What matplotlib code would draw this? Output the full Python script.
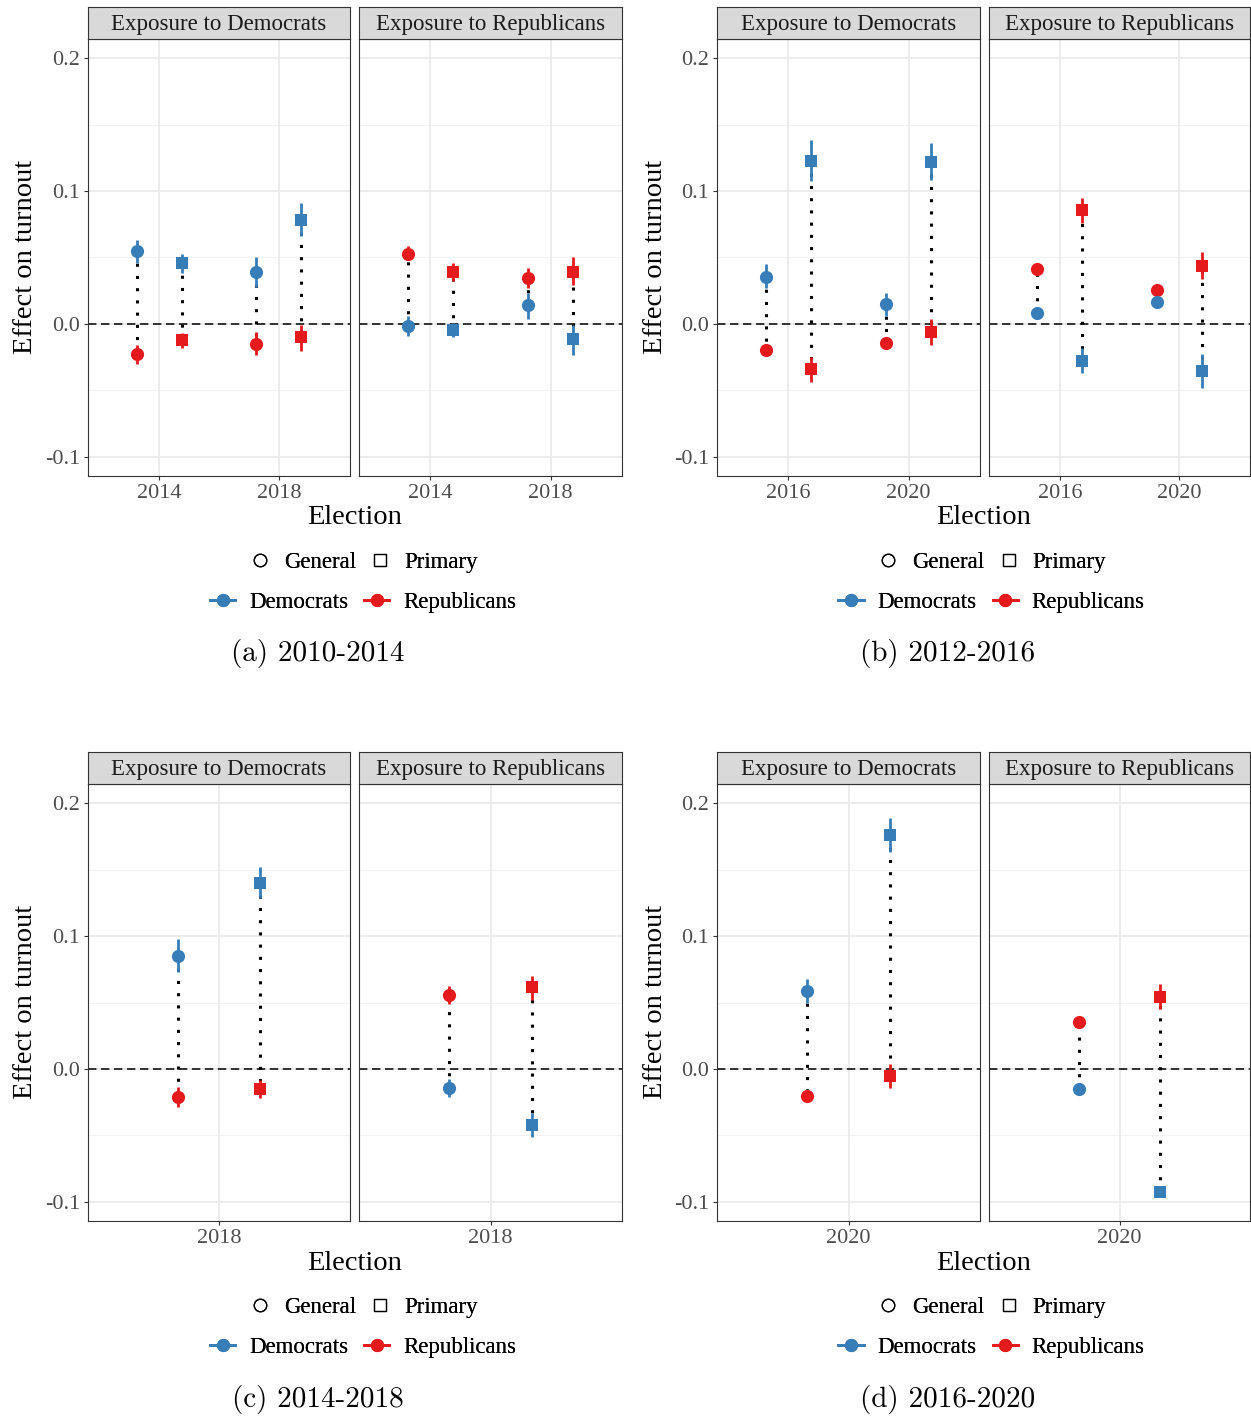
import matplotlib
matplotlib.use("Agg")
import matplotlib.pyplot as plt
from matplotlib.lines import Line2D

# ---------------- data ----------------
FACETS = ["Exposure to Democrats", "Exposure to Republicans"]
TYPES = ["General", "Primary"]
PARTIES = ["Democrats", "Republicans"]
CAPTIONS = ["(a) 2010-2014", "(b) 2012-2016", "(c) 2014-2018", "(d) 2016-2020"]
YTICKS = [-0.1, 0.0, 0.1, 0.2]
YTICK_LABELS = ["-0.1", "0.0", "0.1", "0.2"]

# order in each list: facet Dem [yr1 General, yr1 Primary, yr2 General, yr2 Primary], then facet Rep [...]
A_YEARS = [2014, 2018]
A_DEM_EST = [0.055, 0.046, 0.039, 0.078, -0.0013, -0.0045, 0.0143, -0.0115]
A_DEM_LO = [0.046, 0.038, 0.028, 0.066, -0.009, -0.010, 0.004, -0.023]
A_DEM_HI = [0.063, 0.0526, 0.050, 0.091, 0.006, 0.0005, 0.023, -0.0008]
A_REP_EST = [-0.0226, -0.012, -0.015, -0.0098, 0.053, 0.039, 0.0345, 0.039]
A_REP_LO = [-0.030, -0.018, -0.023, -0.020, 0.048, 0.032, 0.027, 0.029]
A_REP_HI = [-0.0158, -0.0068, -0.006, -0.0008, 0.059, 0.046, 0.042, 0.050]

B_YEARS = [2016, 2020]
B_DEM_EST = [0.0355, 0.1227, 0.015, 0.122, 0.0083, -0.0278, 0.0165, -0.035]
B_DEM_LO = [0.027, 0.1075, 0.006, 0.108, 0.006, -0.037, 0.014, -0.0483]
B_DEM_HI = [0.045, 0.138, 0.023, 0.136, 0.011, -0.018, 0.019, -0.0226]
B_REP_EST = [-0.0196, -0.034, -0.014, -0.006, 0.041, 0.0857, 0.0255, 0.0436]
B_REP_LO = [-0.023, -0.0436, -0.017, -0.016, 0.038, 0.076, 0.023, 0.0338]
B_REP_HI = [-0.016, -0.025, -0.011, 0.004, 0.044, 0.095, 0.028, 0.054]

C_YEARS = [2018]
C_DEM_EST = [0.0852, 0.140, -0.0145, -0.042]
C_DEM_LO = [0.0727, 0.1283, -0.0213, -0.0509]
C_DEM_HI = [0.0977, 0.1517, -0.0078, -0.0333]
C_REP_EST = [-0.0208, -0.015, 0.0556, 0.0614]
C_REP_LO = [-0.0283, -0.022, 0.0489, 0.0519]
C_REP_HI = [-0.0138, -0.0083, 0.0624, 0.0702]

D_YEARS = [2020]
D_DEM_EST = [0.0589, 0.176, -0.015, -0.0922]
D_DEM_LO = [0.0494, 0.1634, -0.0175, -0.095]
D_DEM_HI = [0.068, 0.1885, -0.0125, -0.0895]
D_REP_EST = [-0.0203, -0.0053, 0.0356, 0.0544]
D_REP_LO = [-0.023, -0.0145, 0.033, 0.0454]
D_REP_HI = [-0.0175, 0.0038, 0.038, 0.0637]

# ---------------- style ----------------
BLUE = "#377EB8"
RED = "#E41A1C"
SERIF = ["Liberation Serif", "DejaVu Serif"]
plt.rcParams["font.family"] = SERIF
plt.rcParams["axes.unicode_minus"] = False

W, H = 1251, 1418
fig = plt.figure(figsize=(W / 100, H / 100), dpi=100)


def rect(x0, y0, x1, y1):
    return [x0 / W, 1 - y1 / H, (x1 - x0) / W, (y1 - y0) / H]


periods = [
    (A_YEARS, A_DEM_EST, A_DEM_LO, A_DEM_HI, A_REP_EST, A_REP_LO, A_REP_HI),
    (B_YEARS, B_DEM_EST, B_DEM_LO, B_DEM_HI, B_REP_EST, B_REP_LO, B_REP_HI),
    (C_YEARS, C_DEM_EST, C_DEM_LO, C_DEM_HI, C_REP_EST, C_REP_LO, C_REP_HI),
    (D_YEARS, D_DEM_EST, D_DEM_LO, D_DEM_HI, D_REP_EST, D_REP_LO, D_REP_HI),
]

COLS = [((88, 350), (359, 622)), ((717, 980), (989, 1250))]
ROW_OFF = [0, 745]
YLIM = (-0.1143, 0.2143)
DODGE = 0.75

for pi, (years, dest, dlo, dhi, rest, rlo, rhi) in enumerate(periods):
    col = pi % 2
    row = pi // 2
    dy = ROW_OFF[row]
    n = len(years)
    if n == 2:
        xlim = (years[0] - 2.37, years[1] + 2.37)
    else:
        xlim = (years[0] - 2.4, years[0] + 2.4)
    for fi, facet in enumerate(FACETS):
        x0, x1 = COLS[col][fi]
        ax = fig.add_axes(rect(x0, 39 + dy, x1, 476 + dy))
        ax.set_xlim(*xlim)
        ax.set_ylim(*YLIM)
        ax.set_facecolor("white")
        for s in ax.spines.values():
            s.set_color("#333333")
            s.set_linewidth(0.8)
        # grid
        for yv in [-0.05, 0.05, 0.15]:
            ax.axhline(yv, color="#F2F2F2", lw=0.8, zorder=0)
        for yv in YTICKS:
            ax.axhline(yv, color="#EBEBEB", lw=1.3, zorder=0)
        for xv in years:
            ax.axvline(xv, color="#EBEBEB", lw=1.3, zorder=0)
        ax.axhline(0, color="black", lw=1.1, dashes=(5.5, 3), zorder=1)
        ax.set_xticks(years)
        ax.set_xticklabels([str(y) for y in years])
        ax.set_yticks(YTICKS)
        ax.tick_params(axis="both", colors="#333333", length=3, width=0.8,
                       labelsize=16, labelcolor="#4D4D4D", pad=2.5)
        if fi == 0:
            ax.set_yticklabels(YTICK_LABELS)
        else:
            ax.tick_params(axis="y", length=0, labelleft=False)
        for yi, yr in enumerate(years):
            for ti, typ in enumerate(TYPES):
                k = fi * 2 * n + yi * 2 + ti
                x = yr + (-DODGE if ti == 0 else DODGE)
                mk = "o" if ti == 0 else "s"
                ms = 9.5 if ti == 0 else 9
                ax.plot([x, x], [dest[k], rest[k]], color="black", lw=2.2,
                        linestyle=(0, (1, 3)), zorder=2)
                for est, lo, hi, c in [(rest[k], rlo[k], rhi[k], RED),
                                       (dest[k], dlo[k], dhi[k], BLUE)]:
                    ax.plot([x, x], [lo, hi], color=c, lw=2.0, zorder=3,
                            solid_capstyle="butt")
                    ax.plot([x], [est], marker=mk, color=c, markersize=ms,
                            markeredgewidth=0, linestyle="none", zorder=4)
        # strip
        sax = fig.add_axes(rect(x0, 7 + dy, x1, 39 + dy))
        sax.set_facecolor("#D9D9D9")
        sax.set_xticks([])
        sax.set_yticks([])
        for s in sax.spines.values():
            s.set_color("#333333")
            s.set_linewidth(0.8)
        sax.text(0.5, 0.45, facet, ha="center", va="center", fontsize=16.5,
                 color="#1A1A1A", transform=sax.transAxes)

    px0 = COLS[col][0][0]
    px1 = COLS[col][1][1]
    fig.text((px0 + px1) / 2 / W, 1 - (518 + dy) / H, "Election",
             ha="center", va="center", fontsize=20.5)
    fig.text((px0 - 62) / W, 1 - (257 + dy) / H, "Effect on turnout",
             ha="center", va="center", rotation=90, fontsize=20.5)

    lcx = (px0 + px1) / 2 + 8
    h1 = [Line2D([], [], marker="o", linestyle="none", markerfacecolor="none",
                 markeredgecolor="black", markersize=9, markeredgewidth=0.9),
          Line2D([], [], marker="s", linestyle="none", markerfacecolor="none",
                 markeredgecolor="black", markersize=8.5, markeredgewidth=0.9)]
    leg1 = fig.legend(h1, TYPES, loc="center", ncol=2, frameon=False,
                      bbox_to_anchor=(lcx / W, 1 - (562 + dy) / H),
                      fontsize=16.5, handlelength=1.0, handletextpad=0.55,
                      columnspacing=0.55)
    fig.add_artist(leg1)
    h2 = [Line2D([], [], marker="o", color=BLUE, lw=2.0, markersize=9.5,
                 markeredgewidth=0),
          Line2D([], [], marker="o", color=RED, lw=2.0, markersize=9.5,
                 markeredgewidth=0)]
    leg2 = fig.legend(h2, PARTIES, loc="center", ncol=2, frameon=False,
                      bbox_to_anchor=(lcx / W, 1 - (602 + dy) / H),
                      fontsize=16.5, handlelength=1.1, handletextpad=0.6,
                      columnspacing=0.7)
    fig.add_artist(leg2)

    ccx = 318 if col == 0 else 948
    fig.text(ccx / W, 1 - (654 + dy) / H, CAPTIONS[pi], ha="center",
             va="center", fontsize=21, family="cmr10")

fig.savefig("out.png", dpi=100, facecolor="white")
